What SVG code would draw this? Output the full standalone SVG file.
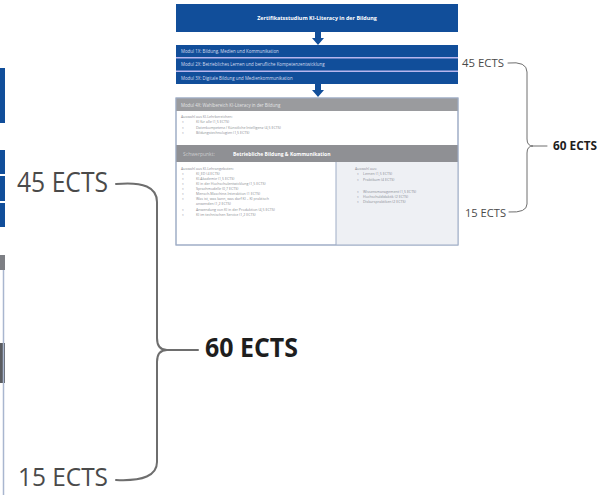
<svg xmlns="http://www.w3.org/2000/svg" width="606" height="495" viewBox="0 0 606 495">
<style>
.blue{fill:#114e9a}
.sep{fill:#b9b6ee}
.hdr{fill:#9a9b9e}
.hdr2{fill:#8f9094}
.wt{font-family:"Open Sans","Liberation Sans",sans-serif;fill:#ffffff}
.mt{font-family:"Open Sans","Liberation Sans",sans-serif;fill:#d6dcf0;font-size:4.4px}
.bt{font-family:"Open Sans","Liberation Sans",sans-serif;fill:#8a8d94;font-size:3.6px}
.ects{font-family:"Open Sans","Liberation Sans",sans-serif;fill:#4a4a4a}
.ectsb{font-family:"Open Sans","Liberation Sans",sans-serif;fill:#1e1e1e;font-weight:bold}
.br{fill:none;stroke:#6e6e6e;stroke-linecap:round}
.arr{fill:#114e9a}
</style>

<!-- enlarged left detail -->
<g id="detail-left">
  <rect x="0" y="68" width="5" height="55" class="blue"/>
  <rect x="0" y="150" width="5" height="24" class="blue"/>
  <rect x="0" y="176" width="5" height="25" class="blue"/>
  <rect x="0" y="203" width="5" height="24" class="blue"/>
  <rect x="0" y="255" width="5" height="15" fill="#7d7f84"/>
  <rect x="0" y="343" width="5" height="40" fill="#5b5d61"/>
  <line x1="3.5" y1="270" x2="3.5" y2="495" stroke="#a9b6cf" stroke-width="1.5"/>
</g>

<g id="connectors">
  <polygon class="arr" points="315,32 321,32 321,38 324,38 318,45 312,38 315,38"/>
  <polygon class="arr" points="315,83 321,83 321,90 324,90 318,97 312,90 315,90"/>
  <path class="br" stroke-width="1" d="M508,63 Q527,61 527,72 L527,139 Q527,146 533,146 Q527,146 527,153 L527,204 Q527,213 509,212"/>
  <line class="br" stroke-width="1" x1="533" y1="146" x2="547" y2="146"/>
  <path class="br" stroke-width="2" d="M116,184 Q157,180 157,202 L157,338 Q157,350 167,350 Q157,350 157,362 L157,462 Q157,482 116,480"/>
  <line class="br" stroke-width="2" x1="167" y1="350" x2="198" y2="350"/>
</g>

<g id="title">
  <rect x="176" y="4" width="282" height="28" class="blue"/>
  <text class="wt" x="317" y="20" font-size="5.4" font-weight="bold" text-anchor="middle">Zertifikatsstudium KI-Literacy in der Bildung</text>
</g>

<g id="modules">
  <rect x="176" y="45" width="282" height="39" class="sep"/>
  <g id="modul-1">
    <rect x="176" y="45" width="282" height="12" class="blue"/>
    <text class="mt" x="181" y="52.5">Modul 1X: Bildung, Medien und Kommunikation</text>
  </g>
  <g id="modul-2">
    <rect x="176" y="58.5" width="282" height="12" class="blue"/>
    <text class="mt" x="181" y="66">Modul 2X: Betriebliches Lernen und berufliche Kompetenzentwicklung</text>
  </g>
  <g id="modul-3">
    <rect x="176" y="72" width="282" height="12" class="blue"/>
    <text class="mt" x="181" y="79.5">Modul 3X: Digitale Bildung und Medienkommunikation</text>
  </g>
</g>

<g id="wahlbereich">
  <rect x="176" y="98" width="282" height="147" fill="#ffffff" stroke="#9fadc6" stroke-width="1"/>
  <rect x="176" y="98" width="282" height="13" class="hdr"/>
  <text class="wt" x="181" y="106.5" font-size="4.4" fill-opacity="0.75">Modul 4X: Wahlbereich KI-Literacy in der Bildung</text>
  <text class="bt" x="181" y="117.5">Auswahl aus KI-Lehrbereichen:</text>
  <text class="bt" x="182" y="123">»</text><text class="bt" x="196" y="123">KI für alle (1,5 ECTS)</text>
  <text class="bt" x="182" y="128.5">»</text><text class="bt" x="196" y="128.5">Datenkompetenz / Künstliche Intelligenz (4,5 ECTS)</text>
  <text class="bt" x="182" y="134">»</text><text class="bt" x="196" y="134">Bildungstechnologien (1,5 ECTS)</text>

  <rect x="176" y="145" width="282" height="17" class="hdr2"/>
  <text class="wt" x="183" y="155.5" font-size="5" fill-opacity="0.55">Schwerpunkt:</text>
  <text class="wt" x="233" y="155.5" font-size="5" font-weight="bold">Betriebliche Bildung &amp; Kommunikation</text>

  <rect x="336" y="162" width="122" height="83" fill="#eef0f4"/>
  <line x1="336" y1="162" x2="336" y2="245" stroke="#9fadc6" stroke-width="1"/>
  <rect x="176" y="98" width="282" height="147" fill="none" stroke="#9fadc6" stroke-width="1"/>

  <text class="bt" x="181" y="169.5">Auswahl aus KI-Lehrangeboten:</text>
  <text class="bt" x="182" y="175">»</text><text class="bt" x="196" y="175">KI_ED (4 ECTS)</text>
  <text class="bt" x="182" y="180">»</text><text class="bt" x="196" y="180">KI-Akademie (1,5 ECTS)</text>
  <text class="bt" x="182" y="185">»</text><text class="bt" x="196" y="185">KI in der Hochschulentwicklung (1,5 ECTS)</text>
  <text class="bt" x="182" y="190">»</text><text class="bt" x="196" y="190">Sprachmodelle (0,7 ECTS)</text>
  <text class="bt" x="182" y="195">»</text><text class="bt" x="196" y="195">Mensch-Maschine-Interaktion (1 ECTS)</text>
  <text class="bt" x="182" y="200">»</text><text class="bt" x="196" y="200">Was ist, was kann, was darf KI – KI praktisch</text>
  <text class="bt" x="196" y="205">anwenden (1,2 ECTS)</text>
  <text class="bt" x="182" y="210.5">»</text><text class="bt" x="196" y="210.5">Anwendung von KI in der Produktion (4,5 ECTS)</text>
  <text class="bt" x="182" y="215.5">»</text><text class="bt" x="196" y="215.5">KI im technischen Service (1,2 ECTS)</text>

  <text class="bt" x="355" y="169.5">Auswahl aus:</text>
  <text class="bt" x="357" y="175">»</text><text class="bt" x="363" y="175">Lernen (1,5 ECTS)</text>
  <text class="bt" x="357" y="180.5">»</text><text class="bt" x="363" y="180.5">Praktikum (4 ECTS)</text>
  <text class="bt" x="357" y="193">»</text><text class="bt" x="363" y="193">Wissensmanagement (1,5 ECTS)</text>
  <text class="bt" x="357" y="198">»</text><text class="bt" x="363" y="198">Hochschuldidaktik (2 ECTS)</text>
  <text class="bt" x="357" y="203">»</text><text class="bt" x="363" y="203">Diskurspraktiken (2 ECTS)</text>
</g>

<g id="ects-small">
  <text class="ects" x="462" y="66.5" font-size="11.5" textLength="42" lengthAdjust="spacingAndGlyphs">45 ECTS</text>
  <text class="ects" x="465" y="216.5" font-size="11.5" textLength="41" lengthAdjust="spacingAndGlyphs">15 ECTS</text>
  <text class="ectsb" x="553" y="150" font-size="11.5" textLength="44" lengthAdjust="spacingAndGlyphs">60 ECTS</text>
</g>

<g id="ects-large">
  <text class="ects" x="17" y="192" font-size="27" textLength="91" lengthAdjust="spacingAndGlyphs">45 ECTS</text>
  <text class="ects" x="18" y="486" font-size="26" textLength="90" lengthAdjust="spacingAndGlyphs">15 ECTS</text>
  <text class="ectsb" x="205" y="357" font-size="26" textLength="93" lengthAdjust="spacingAndGlyphs">60 ECTS</text>
</g>
</svg>
